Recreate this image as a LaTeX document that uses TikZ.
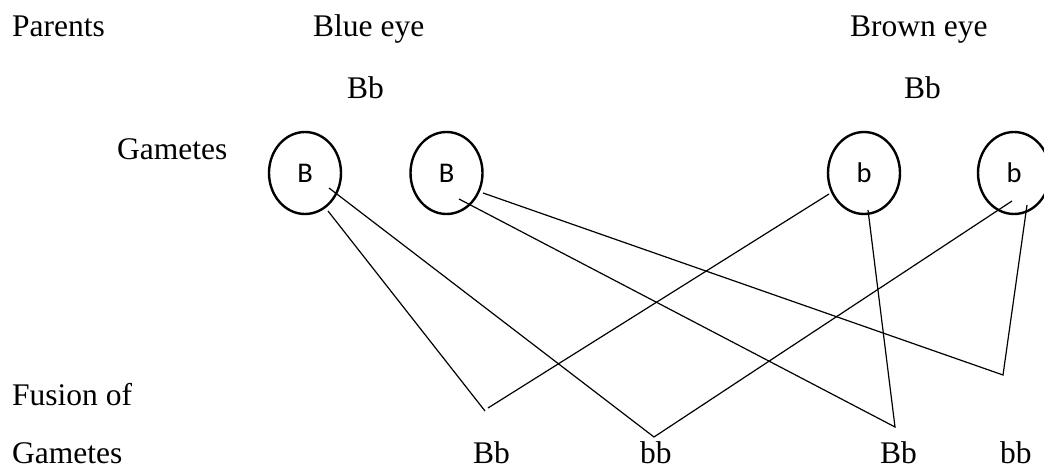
\documentclass[tikz,border=0pt]{standalone}
\usepackage{fontspec}
\setmainfont{Liberation Serif}
\newfontfamily\gamfont{Carlito}
\usetikzlibrary{shapes.geometric}
\begin{document}
\begin{tikzpicture}[x=1pt,y=-1pt,
  label/.style={inner sep=0pt,anchor=base west,font=\fontsize{31.5}{36}\selectfont},
  gamete/.style={draw,ellipse,line width=2.4pt,inner sep=0pt,
    minimum width=72pt,minimum height=82pt,font=\gamfont\fontsize{28.5}{32}\selectfont},
  cross/.style={line width=1.2pt}]
\clip (0,0) rectangle (1044,470);

% row labels
\node[label] (parents) at (12,37) {Parents};
\node[label] (blue) at (313,37) {Blue eye};
\node[label] (brown) at (850,37) {Brown eye};
\node[label] (pg1) at (347,99) {Bb};
\node[label] (pg2) at (904,99) {Bb};
\node[label] (gam) at (117,160) {Gametes};
\node[label] (fus) at (12,405) {Fusion of};
\node[label] (gam2) at (12,463) {Gametes};

% offspring
\node[label] (o1) at (473,463) {Bb};
\node[label] (o2) at (640,463) {bb};
\node[label] (o3) at (880,463) {Bb};
\node[label] (o4) at (1000,463) {bb};

% gametes
\node[gamete] (g1) at (305,173) {B};
\node[gamete] (g2) at (446.5,173) {B};
\node[gamete] (g3) at (864,173) {b};
\node[gamete] (g4) at (1014,173) {b};

% line ends inside the gametes
\coordinate (s1a) at (328,211);
\coordinate (s1b) at (329,188);
\coordinate (s2a) at (459,199);
\coordinate (s2b) at (483,193);
\coordinate (s3a) at (829,194);
\coordinate (s3b) at (868,210);
\coordinate (s4a) at (1012,201);
\coordinate (s4b) at (1027,205);

% fusion points
\coordinate (j1a) at (485,411);
\coordinate (j1b) at (488,408);
\coordinate (j2) at (654,437);
\coordinate (j3) at (895,427);
\coordinate (j4) at (1003,375);

\draw[cross] (s1a) -- (j1a);
\draw[cross] (s3a) -- (j1b);
\draw[cross] (s1b) -- (j2) -- (s4a);
\draw[cross] (s2a) -- (j3) -- (s3b);
\draw[cross] (s2b) -- (j4) -- (s4b);
\end{tikzpicture}
\end{document}
